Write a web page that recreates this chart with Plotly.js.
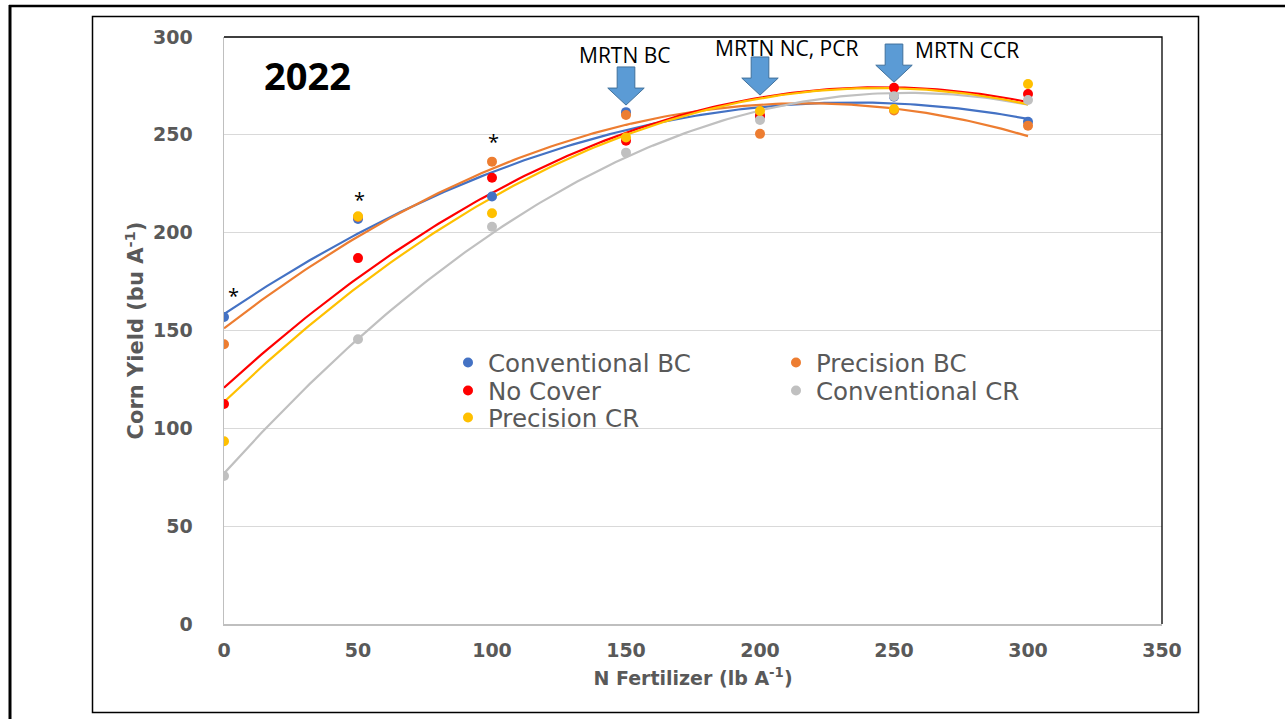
<!DOCTYPE html>
<html>
<head>
<meta charset="utf-8">
<script src="https://cdn.plot.ly/plotly-3.0.1.min.js"></script>
<style>
  html, body { margin: 0; padding: 0; background: #ffffff; }
  #chart { width: 1285px; height: 719px; }
</style>
</head>
<body>
<div id="chart"></div>
<script>
// ---- Data ----
const nRates = [0, 50, 100, 150, 200, 250, 300];
const seriesNames = ['Conventional BC', 'Precision BC', 'No Cover', 'Conventional CR', 'Precision CR'];
const convBC  = [156.9, 207.0, 218.5, 261.6, 259.5, 269.5, 256.7];
const precBC  = [143.0, 208.0, 236.3, 260.1, 250.5, 262.5, 254.7];
const noCover = [112.4, 187.0, 228.1, 247.0, 259.8, 274.0, 270.9];
const convCR  = [75.6, 145.5, 203.0, 240.9, 257.6, 269.7, 267.8];
const precCR  = [93.4, 208.4, 209.9, 248.7, 262.2, 263.2, 276.0];
const seriesColors = ['#4472C4', '#ED7D31', '#FF0000', '#C0C0C0', '#FFC000'];
const legendRowOf = ['legend', 'legend', 'legend2', 'legend2', 'legend3'];

const mrtnRates  = [150, 200, 250];
const mrtnLabels = ['MRTN BC', 'MRTN NC, PCR', 'MRTN CCR'];
const mrtnArrowTop = [284.7, 289.8, 296.4];
const mrtnLabelX = [149.3, 209.7, 277.2];
const mrtnLabelY = [290.8, 294.4, 293.4];

const starRates = [3.7, 50.4, 100.4];
const starY = [168.0, 217.0, 246.7];

// ---- Excel-style 2nd order polynomial trendline (least squares) ----
function quadFit(xs, ys) {
  let S = [0,0,0,0,0], T = [0,0,0];
  for (let i = 0; i < xs.length; i++) {
    const x = xs[i], y = ys[i];
    let p = 1;
    for (let k = 0; k < 5; k++) { S[k] += p; if (k < 3) T[k] += p * y; p *= x; }
  }
  const A = [[S[0],S[1],S[2],T[0]],[S[1],S[2],S[3],T[1]],[S[2],S[3],S[4],T[2]]];
  for (let c = 0; c < 3; c++) {
    for (let r = c + 1; r < 3; r++) {
      const f = A[r][c] / A[c][c];
      for (let k = c; k < 4; k++) A[r][k] -= f * A[c][k];
    }
  }
  const b = [0,0,0];
  for (let r = 2; r >= 0; r--) {
    let s = A[r][3];
    for (let k = r + 1; k < 3; k++) s -= A[r][k] * b[k];
    b[r] = s / A[r][r];
  }
  return b;
}

const allSeries = [convBC, precBC, noCover, convCR, precCR];
const traces = [];
const xmin = nRates[0], xmax = nRates[nRates.length - 1];
allSeries.forEach((ys, i) => {
  const c = quadFit(nRates, ys);
  const fx = [], fy = [];
  for (let x = xmin; x <= xmax; x += 2) { fx.push(x); fy.push(c[0] + c[1]*x + c[2]*x*x); }
  traces.push({
    x: fx, y: fy, type: 'scatter', mode: 'lines',
    line: { color: seriesColors[i], width: 2.2 },
    showlegend: false, hoverinfo: 'skip'
  });
});
allSeries.forEach((ys, i) => {
  traces.push({
    x: nRates, y: ys, type: 'scatter', mode: 'markers',
    name: seriesNames[i], legend: legendRowOf[i],
    marker: { color: seriesColors[i], size: 10 }
  });
});

// ---- helpers for frame positions (paper coordinates) ----
const PL = 224, PR = 1162, PT = 37, PB = 624;
const xp = px => (px - PL) / (PR - PL);
const yp = py => (PB - py) / (PB - PT);

const shapes = [];
// Outer frame lines
shapes.push({ type: 'line', xref: 'paper', yref: 'paper', x0: xp(10), x1: xp(10), y0: yp(5), y1: yp(730), line: { color: '#000', width: 3 } });
shapes.push({ type: 'line', xref: 'paper', yref: 'paper', x0: xp(9), x1: xp(1300), y0: yp(6), y1: yp(6), line: { color: '#000', width: 2.5 } });
// Inner chart-area frame
shapes.push({ type: 'rect', xref: 'paper', yref: 'paper', x0: xp(92.5), x1: xp(1198.5), y0: yp(16.5), y1: yp(712.5), line: { color: '#000', width: 1.5 } });
// Plot-area top and right border
shapes.push({ type: 'path', xref: 'paper', yref: 'paper', path: `M 0 1 L 1 1 L 1 0`, line: { color: '#000', width: 1.3 } });

// Block arrows for MRTN rates
const shaftHalf = 3.3, headHalf = 6.8, shaftLen = 10.8, headLen = 8.7;
mrtnRates.forEach((x, i) => {
  const top = mrtnArrowTop[i];
  const hb = top - shaftLen, tip = hb - headLen;
  const path = `M ${x - shaftHalf} ${top} L ${x + shaftHalf} ${top} L ${x + shaftHalf} ${hb} L ${x + headHalf} ${hb} L ${x} ${tip} L ${x - headHalf} ${hb} L ${x - shaftHalf} ${hb} Z`;
  shapes.push({ type: 'path', xref: 'x', yref: 'y', path: path, fillcolor: '#5B9BD5', line: { color: '#41719C', width: 1 } });
});

const annotations = [];
annotations.push({ x: 31.3, y: 280.6, xref: 'x', yref: 'y', text: '<b>2022</b>', showarrow: false,
  font: { family: 'Open Sans', size: 38, color: '#000000' } });
mrtnLabels.forEach((t, i) => {
  annotations.push({ x: mrtnLabelX[i], y: mrtnLabelY[i], xref: 'x', yref: 'y', text: t, showarrow: false,
    font: { family: 'Open Sans', size: 21, color: '#000000' } });
});
starRates.forEach((x, i) => {
  annotations.push({ x: x, y: starY[i], xref: 'x', yref: 'y', text: '*', showarrow: false,
    font: { family: 'Open Sans', size: 20, color: '#000000' } });
});

const tickFont = { family: 'DejaVu Sans', size: 19, color: '#595959', weight: 'bold' };
const legendFont = { family: 'DejaVu Sans', size: 24.5, color: '#595959' };
function legendRow(topPx) {
  return {
    orientation: 'h', entrywidth: 283, entrywidthmode: 'pixels',
    x: xp(448), y: yp(topPx), xanchor: 'left', yanchor: 'top',
    bgcolor: 'rgba(0,0,0,0)', borderwidth: 0,
    font: legendFont, itemwidth: 30
  };
}

const layout = {
  width: 1285, height: 719,
  margin: { l: PL, r: 1285 - PR, t: PT, b: 719 - PB, pad: 0 },
  paper_bgcolor: '#ffffff', plot_bgcolor: '#ffffff',
  showlegend: true,
  legend: legendRow(340),
  legend2: legendRow(368),
  legend3: legendRow(395),
  xaxis: {
    range: [0, 350], tickvals: [0, 50, 100, 150, 200, 250, 300, 350],
    showgrid: false, zeroline: false, showline: true, linecolor: '#BFBFBF', linewidth: 1.5,
    ticks: '', tickfont: tickFont, ticklabelstandoff: 9,
    title: { text: '<b>N Fertilizer (lb A<sup>-1</sup>)</b>', font: { family: 'DejaVu Sans', size: 19, color: '#595959' }, standoff: 11 },
    fixedrange: true
  },
  yaxis: {
    range: [0, 300], tickvals: [0, 50, 100, 150, 200, 250, 300],
    showgrid: true, gridcolor: '#D9D9D9', gridwidth: 1.3, zeroline: false,
    showline: true, linecolor: '#BFBFBF', linewidth: 1.5,
    ticks: '', tickfont: tickFont, ticklabelstandoff: 26,
    title: { text: '<b>Corn Yield (bu A<sup>-1</sup>)</b>', font: { family: 'DejaVu Sans', size: 21, color: '#595959' }, standoff: 3 },
    fixedrange: true
  },
  shapes: shapes,
  annotations: annotations
};

Plotly.newPlot('chart', traces, layout, { displayModeBar: false, staticPlot: true });
</script>
</body>
</html>
